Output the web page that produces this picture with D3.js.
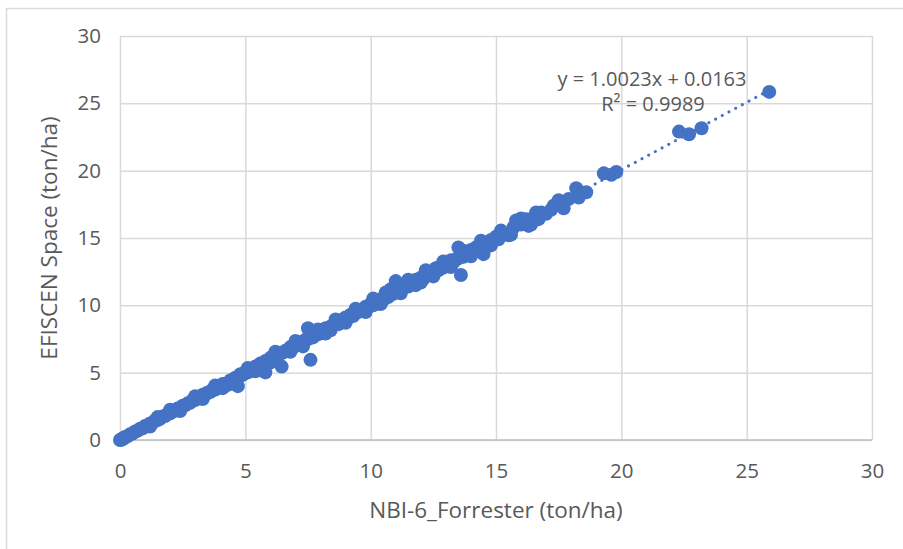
<!DOCTYPE html>
<html>
<head>
<meta charset="utf-8">
<script src="https://cdn.jsdelivr.net/npm/d3@7"></script>
<style>
  html, body { margin: 0; padding: 0; background: #fff; }
  svg { display: block; font-family: 'Open Sans', sans-serif; }
</style>
</head>
<body>
<div id="chart"></div>
<script>
'use strict';

// NBI-6 Forrester values (x) and matching EFISCEN Space values (y), ton/ha
var nbiValues = [
  0, 0.05, 0.1, 0.15, 0.2, 0.3, 0.4, 0.5, 0.6, 0.7, 0.8, 0.9, 1.0, 1.1, 1.2, 1.3, 1.4, 1.5, 1.6, 1.7,
  1.8, 1.9, 2.0, 2.1, 2.2, 2.3, 2.4, 2.5, 2.6, 2.7, 2.8, 2.9, 3.0, 3.1, 3.2, 3.3, 3.4, 3.5, 3.6, 3.7,
  3.8, 3.9, 4.0, 4.1, 4.2, 4.3, 4.4, 4.5, 4.6, 4.7, 4.75, 4.8, 4.9, 5.0, 5.1, 5.2, 5.3, 5.4, 5.5, 5.6,
  5.8, 5.7, 5.8, 5.9, 6.0, 6.1, 6.2, 6.3, 6.45, 6.4, 6.5, 6.6, 6.7, 6.8, 6.9, 7.0, 7.1, 7.2, 7.3, 7.5,
  7.4, 7.5, 7.6, 7.6, 7.7, 7.8, 7.9, 8.0, 8.1, 8.2, 8.3, 8.4, 8.5, 8.6, 8.7, 8.8, 8.9, 9.0, 9.1, 9.2,
  9.3, 9.4, 9.5, 9.6, 9.7, 9.8, 9.9, 10.0, 10.1, 10.2, 10.3, 10.4, 10.5, 10.6, 10.7, 10.8, 10.9, 11.0, 11.0, 11.1,
  11.2, 11.3, 11.4, 11.5, 11.6, 11.7, 11.8, 11.9, 12.0, 12.1, 12.2, 12.3, 12.4, 12.5, 12.6, 12.7, 12.8, 12.9, 13.0, 13.1,
  13.2, 13.3, 13.4, 13.5, 13.5, 13.6, 13.6, 13.7, 13.8, 13.9, 14.0, 14.1, 14.2, 14.3, 14.4, 14.5, 14.6, 14.7, 14.8, 15.0,
  15.1, 15.3, 15.5, 15.7, 15.8, 16.0, 16.2, 16.3, 16.5, 16.7, 16.8, 17.0, 17.2, 17.3, 17.6, 17.7, 17.9, 18.2, 18.3, 18.6,
  19.3, 19.6, 19.8, 22.3, 22.7, 23.2, 25.9,
  1.2, 1.5, 2.0, 2.4, 3.0, 3.3, 3.8, 4.1, 4.5, 5.1, 5.4, 6.0, 6.2, 6.8, 7.0, 7.3, 7.9, 8.2, 8.6, 9.0,
  9.4, 9.8, 10.1, 10.4, 10.8, 11.2, 11.5, 11.8, 12.2, 12.5, 12.9, 13.2, 13.7, 14.0, 14.4, 14.8, 15.2, 15.6, 16.0, 16.4,
  16.6, 17.5, 4.6, 8.4, 10.6, 12.0
];
var efiscenValues = [
  0, 0.02, 0.12, 0.1, 0.22, 0.28, 0.42, 0.47, 0.63, 0.68, 0.83, 0.86, 1.04, 1.07, 1.22, 1.27, 1.45, 1.48, 1.58, 1.75,
  1.78, 1.93, 1.98, 2.14, 2.17, 2.33, 2.38, 2.55, 2.57, 2.72, 2.76, 2.95, 2.97, 3.12, 3.15, 3.36, 3.35, 3.53, 3.56, 3.76,
  3.74, 3.95, 3.92, 4.16, 4.15, 4.1, 4.42, 4.46, 4.62, 4.0, 4.7, 4.88, 4.85, 5.05, 5.02, 5.26, 5.25, 5.45, 5.42, 5.68,
  5.02, 5.7, 5.86, 5.85, 6.1, 6.05, 6.3, 6.22, 5.45, 6.45, 6.5, 6.62, 6.68, 6.9, 6.85, 7.05, 7.08, 7.25, 7.2, 8.3,
  7.45, 7.5, 5.95, 7.65, 7.62, 7.88, 7.85, 8.05, 8.0, 8.3, 8.25, 8.42, 8.5, 8.65, 8.6, 8.9, 8.85, 9.1, 9.05, 9.3,
  9.2, 9.45, 9.5, 9.65, 9.6, 9.9, 9.85, 10.1, 10.0, 10.35, 10.25, 10.45, 10.4, 10.7, 10.62, 10.9, 10.85, 11.8, 11.05, 11.0,
  11.3, 11.25, 11.55, 11.4, 11.7, 11.62, 11.9, 11.85, 12.05, 11.95, 12.3, 12.25, 12.45, 12.4, 12.75, 12.6, 12.9, 12.8, 13.1, 13.0,
  13.35, 13.2, 13.4, 14.3, 13.5, 12.25, 13.7, 13.6, 13.9, 13.75, 14.1, 13.95, 14.3, 14.2, 14.5, 13.8, 14.65, 14.6, 14.85, 15.1,
  14.9, 15.35, 15.2, 15.8, 16.3, 16.0, 16.4, 15.9, 16.5, 16.4, 16.9, 16.8, 17.1, 17.4, 17.6, 17.2, 17.9, 18.7, 18.0, 18.4,
  19.8, 19.7, 19.9, 22.9, 22.7, 23.15, 25.85,
  1.0, 1.7, 2.25, 2.15, 3.25, 3.05, 4.05, 3.85, 4.2, 5.35, 5.1, 5.75, 6.55, 6.55, 7.35, 6.95, 8.2, 7.9, 8.95, 8.7,
  9.75, 9.5, 10.5, 10.1, 11.2, 10.9, 11.9, 11.5, 12.6, 12.15, 13.25, 12.85, 14.05, 13.65, 14.8, 14.45, 15.55, 15.25, 16.45, 16.0,
  16.9, 17.8, 4.15, 8.15, 10.95, 11.7
];

var axisTicks = [0, 5, 10, 15, 20, 25, 30];
var trendSlope = 1.0023;
var trendIntercept = 0.0163;
var trendLabel = 'y = 1.0023x + 0.0163';
var r2Label = 'R² = 0.9989';
var xTitle = 'NBI-6_Forrester (ton/ha)';
var yTitle = 'EFISCEN Space (ton/ha)';

var width = 903;
var height = 549;
var plot = { left: 120, right: 872, top: 36, bottom: 440 };
var blue = '#4472c4';
var textColor = '#595959';
var gridColor = '#d9d9d9';

var svg = d3.select('#chart')
  .append('svg')
  .attr('width', width)
  .attr('height', height);

// outer chart frame (only top and left edges are in view)
svg.append('rect')
  .attr('x', 6.5)
  .attr('y', 8.5)
  .attr('width', 1000)
  .attr('height', 1000)
  .attr('fill', '#fff')
  .attr('stroke', gridColor)
  .attr('stroke-width', 1.5);

var x = d3.scaleLinear().domain([0, 30]).range([plot.left, plot.right]);
var y = d3.scaleLinear().domain([0, 30]).range([plot.bottom, plot.top]);

// gridlines
var xGrid = d3.axisBottom(x)
  .tickValues(axisTicks)
  .tickSize(-(plot.bottom - plot.top))
  .tickFormat('');
var yGrid = d3.axisLeft(y)
  .tickValues(axisTicks)
  .tickSize(-(plot.right - plot.left))
  .tickFormat('');

svg.append('g')
  .attr('transform', 'translate(0,' + plot.bottom + ')')
  .call(xGrid)
  .call(function(g) {
    g.select('.domain').remove();
    g.selectAll('line').attr('stroke', gridColor).attr('stroke-width', 1.5);
  });

svg.append('g')
  .attr('transform', 'translate(' + plot.left + ',0)')
  .call(yGrid)
  .call(function(g) {
    g.select('.domain').remove();
    g.selectAll('line').attr('stroke', gridColor).attr('stroke-width', 1.5);
  });

// bottom axis line
svg.append('line')
  .attr('x1', plot.left)
  .attr('x2', plot.right)
  .attr('y1', plot.bottom)
  .attr('y2', plot.bottom)
  .attr('stroke', '#bfbfbf')
  .attr('stroke-width', 1.5);

// tick labels
var xAxis = d3.axisBottom(x).tickValues(axisTicks).tickSize(0).tickPadding(23);
svg.append('g')
  .attr('transform', 'translate(0,' + plot.bottom + ')')
  .call(xAxis)
  .call(function(g) {
    g.select('.domain').remove();
    g.selectAll('text')
      .attr('fill', textColor)
      .style('font-size', '20.5px')
      .style('font-family', "'Open Sans', sans-serif");
  });

var yAxis = d3.axisLeft(y).tickValues(axisTicks).tickSize(0).tickPadding(19);
svg.append('g')
  .attr('transform', 'translate(' + plot.left + ',0)')
  .call(yAxis)
  .call(function(g) {
    g.select('.domain').remove();
    g.selectAll('text')
      .attr('fill', textColor)
      .style('font-size', '20.5px')
      .style('font-family', "'Open Sans', sans-serif");
  });

// points
var points = d3.zip(nbiValues, efiscenValues);

svg.append('g')
  .selectAll('circle')
  .data(points)
  .enter()
  .append('circle')
  .attr('cx', function(d) { return x(d[0]); })
  .attr('cy', function(d) { return y(d[1]); })
  .attr('r', 7)
  .attr('fill', blue);

// linear trendline (dotted), over the data range
var xMin = d3.min(nbiValues);
var xMax = d3.max(nbiValues);
svg.append('line')
  .attr('x1', x(xMin))
  .attr('y1', y(trendSlope * xMin + trendIntercept))
  .attr('x2', x(xMax))
  .attr('y2', y(trendSlope * xMax + trendIntercept))
  .attr('stroke', blue)
  .attr('stroke-width', 3)
  .attr('stroke-linecap', 'round')
  .attr('stroke-dasharray', '0.1 7.5');

// trendline labels
svg.append('text')
  .attr('x', 652)
  .attr('y', 86)
  .attr('text-anchor', 'middle')
  .attr('fill', textColor)
  .style('font-size', '20px')
  .text(trendLabel);

svg.append('text')
  .attr('x', 653)
  .attr('y', 111)
  .attr('text-anchor', 'middle')
  .attr('fill', textColor)
  .style('font-size', '20px')
  .text(r2Label);

// axis titles
svg.append('text')
  .attr('x', (plot.left + plot.right) / 2)
  .attr('y', 518)
  .attr('text-anchor', 'middle')
  .attr('fill', textColor)
  .style('font-size', '22.5px')
  .text(xTitle);

svg.append('text')
  .attr('transform', 'translate(57,' + 238 + ') rotate(-90)')
  .attr('text-anchor', 'middle')
  .attr('fill', textColor)
  .style('font-size', '22.5px')
  .text(yTitle);
</script>
</body>
</html>
